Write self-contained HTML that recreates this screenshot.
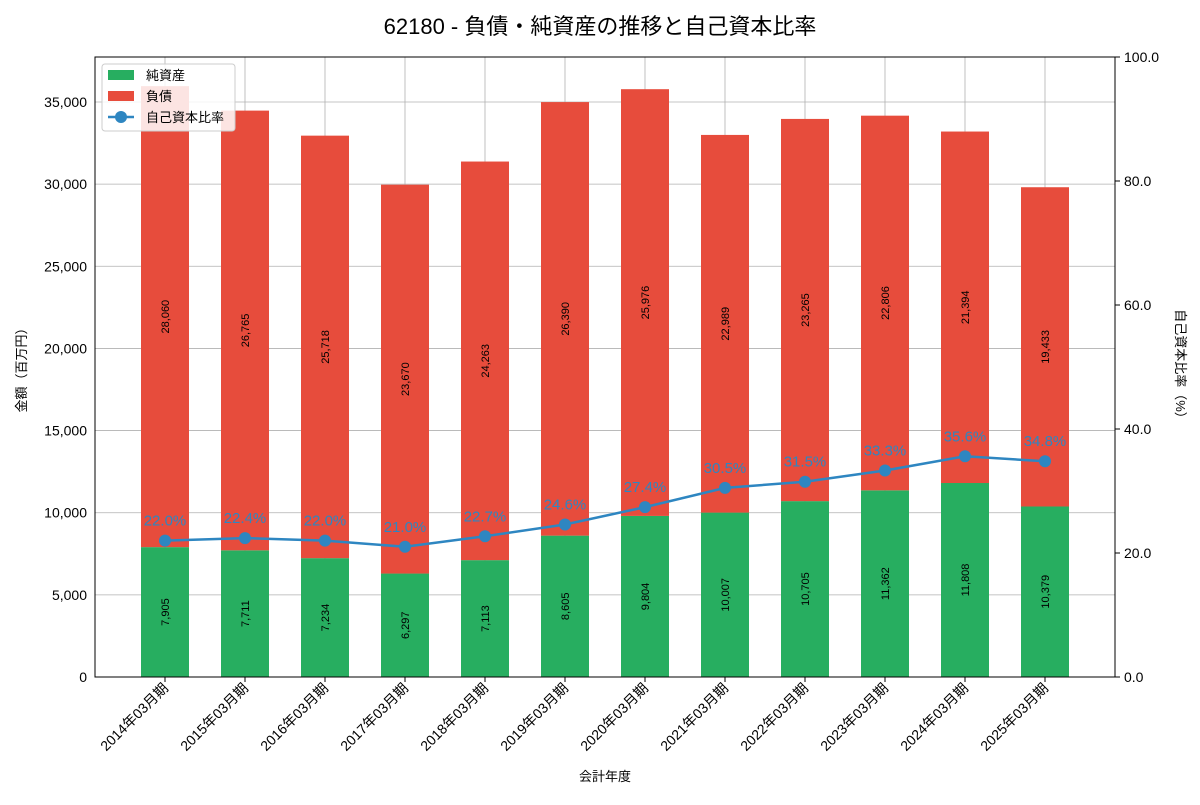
<!DOCTYPE html>
<html><head><meta charset="utf-8"><style>
body{margin:0;background:#fff;font-family:"Liberation Sans","Noto Sans CJK JP",sans-serif;}
svg text{font-family:"Liberation Sans","Noto Sans CJK JP",sans-serif;}
</style></head><body>
<svg id="c" width="1200" height="800">
<text x="600" y="34" text-anchor="middle" font-size="22">62180 - 負債・純資産の推移と自己資本比率</text>
<g id="grid"></g><g id="bars"></g><g id="line"></g><g id="axes"></g>
</svg>
<script>
const categories=["2014年03月期","2015年03月期","2016年03月期","2017年03月期","2018年03月期","2019年03月期","2020年03月期","2021年03月期","2022年03月期","2023年03月期","2024年03月期","2025年03月期"];
const netAssets=[7905,7711,7234,6297,7113,8605,9804,10007,10705,11362,11808,10379];
const liabilities=[28060,26765,25718,23670,24263,26390,25976,22989,23265,22806,21394,19433];
const ratio=[22.0,22.4,22.0,21.0,22.7,24.6,27.4,30.5,31.5,33.3,35.6,34.8];
const leftTicks=[0,5000,10000,15000,20000,25000,30000,35000];
const rightTicks=[0,20,40,60,80,100];
const NS="http://www.w3.org/2000/svg";
const L=95,R=1115,T=57,B=677;
const x=i=>L+(i+0.875)*(R-L)/12.75;
const bw=0.6*(R-L)/12.75;
const y=v=>B-v/5000*(677-102)/7;
const y2=v=>B-v/100*(B-T);
function mk(p,tag,a,txt){const e=document.createElementNS(NS,tag);for(const k in a)e.setAttribute(k,a[k]);if(txt!=null)e.textContent=txt;document.getElementById(p).appendChild(e);return e;}
leftTicks.forEach(t=>{const e=mk('grid','line',{x1:L,x2:R,y1:y(t),y2:y(t),stroke:'#b0b0b0','stroke-width':0.8});

const tx=mk('axes','text',{x:L-8,y:y(t)+5,'text-anchor':'end','font-size':14},t.toLocaleString('en-US'));
});
categories.forEach((c,i)=>{const e=mk('grid','line',{x1:x(i),x2:x(i),y1:T,y2:B,stroke:'#b0b0b0','stroke-width':0.8});

const n=mk('bars','rect',{x:x(i)-bw/2,y:y(netAssets[i]),width:bw,height:B-y(netAssets[i]),fill:'#27ae60'});

const tot=netAssets[i]+liabilities[i];
const l=mk('bars','rect',{x:x(i)-bw/2,y:y(tot),width:bw,height:y(netAssets[i])-y(tot),fill:'#e74c3c'});

const ym=(B+y(netAssets[i]))/2,yl=(y(netAssets[i])+y(tot))/2;
const t1=mk('bars','text',{x:0,y:0,transform:`translate(${x(i)+4},${ym}) rotate(-90)`,'text-anchor':'middle','font-size':11},netAssets[i].toLocaleString('en-US'));

const t2=mk('bars','text',{x:0,y:0,transform:`translate(${x(i)+4},${yl}) rotate(-90)`,'text-anchor':'middle','font-size':11},liabilities[i].toLocaleString('en-US'));

const tk=mk('axes','line',{x1:x(i),x2:x(i),y1:B,y2:B+5,stroke:'#000'});

const xl=mk('axes','text',{x:0,y:0,transform:`translate(${x(i)+4},${B+12}) rotate(-45)`,'text-anchor':'end','font-size':14},c);
});
const pl=mk('line','polyline',{points:ratio.map((r,i)=>x(i)+','+y2(r)).join(' '),fill:'none',stroke:'#2e86c1','stroke-width':2.5});

ratio.forEach((r,i)=>{const c=mk('line','circle',{cx:x(i),cy:y2(r),r:6,fill:'#2e86c1'});

const t=mk('line','text',{x:x(i),y:y2(r)-15,'text-anchor':'middle','font-size':15,fill:'#2e86c1'},r.toFixed(1)+'%');
});
rightTicks.forEach(t=>{const e=mk('axes','line',{x1:R,x2:R+5,y1:y2(t),y2:y2(t),stroke:'#000'});

const tx=mk('axes','text',{x:R+9,y:y2(t)+5,'font-size':14},t.toFixed(1));
});
const fr=mk('axes','rect',{x:L,y:T,width:R-L,height:B-T,fill:'none',stroke:'#000','stroke-width':1});

const yt=mk('axes','text',{x:0,y:0,transform:`translate(26,${(T+B)/2}) rotate(-90)`,'text-anchor':'middle','font-size':13},'金額（百万円）');

const y2t=mk('axes','text',{x:0,y:0,transform:`translate(1176,${(T+B)/2}) rotate(90)`,'text-anchor':'middle','font-size':13},'自己資本比率（%）');

const xt=mk('axes','text',{x:(L+R)/2,y:781,'text-anchor':'middle','font-size':13},'会計年度');

const lg=mk('axes','rect',{x:102,y:64,width:133,height:67,fill:'#fff','fill-opacity':0.85,stroke:'#ccc',rx:3});

[['純資産','#27ae60'],['負債','#e74c3c']].forEach((d,k)=>{const r=mk('axes','rect',{x:108,y:70+k*21,width:26,height:10,fill:d[1]});

const t=mk('axes','text',{x:146,y:80+k*21,'font-size':13},d[0]);
});
const ll=mk('axes','line',{x1:108,x2:134,y1:117,y2:117,stroke:'#2e86c1','stroke-width':2.5});

const lc=mk('axes','circle',{cx:121,cy:117,r:6,fill:'#2e86c1'});

const lt=mk('axes','text',{x:146,y:122,'font-size':13},'自己資本比率');

</script></body></html>
